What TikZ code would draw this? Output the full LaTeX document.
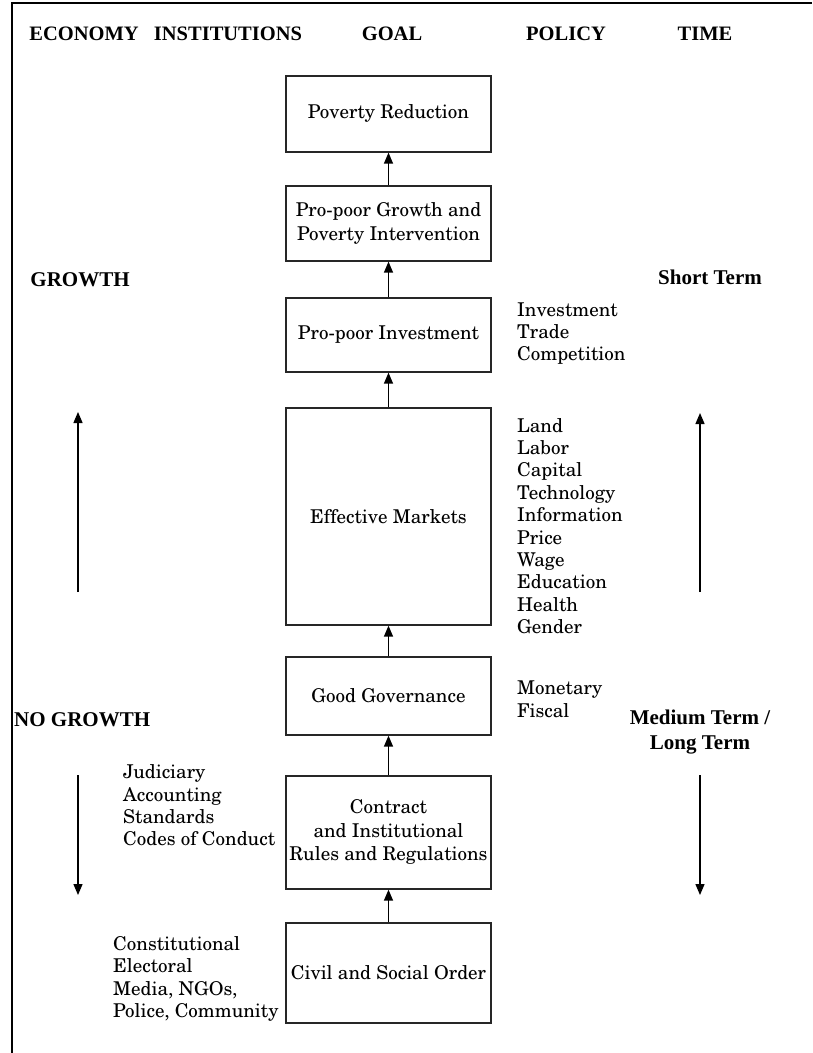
\documentclass[tikz,border=0pt]{standalone}
\usepackage{fontspec}
\newfontfamily\hdfont{Liberation Serif}
\newcommand\bodyfont{\fontencoding{T1}\fontfamily{pnc}\selectfont}
\usetikzlibrary{arrows.meta}
\begin{document}
\begin{tikzpicture}[x=1pt,y=-1pt,
  box/.style={draw=black!85, line width=1.2pt, minimum width=205pt, inner sep=0pt, align=center, font=\bodyfont\fontsize{19}{23.5}\selectfont},
  lst/.style={align=left, inner sep=0pt, anchor=west, font=\bodyfont\fontsize{19}{22.4}\selectfont},
  hdr/.style={font=\hdfont\bfseries\fontsize{20.5}{24}\selectfont, inner sep=0pt, anchor=base},
  lbl/.style={font=\hdfont\bfseries\fontsize{21}{25}\selectfont, inner sep=0pt, align=center},
  arr/.style={line width=1.3pt, -{Triangle[width=9pt,length=11pt]}}]
\useasboundingbox (0,0) rectangle (812,1053);
% frame
\coordinate (fr1) at (812,3);
\coordinate (fr2) at (12,3);
\coordinate (fr3) at (12,1053);
\draw[line width=2pt] (fr1) -- (fr2) -- (fr3);
% headers
\node[hdr] (h1) at (84,40) {ECONOMY};
\node[hdr] (h2) at (228,40) {INSTITUTIONS};
\node[hdr] (h3) at (392,40) {GOAL};
\node[hdr] (h4) at (566,40) {POLICY};
\node[hdr] (h5) at (705,40) {TIME};
% boxes
\node[box, minimum height=76pt] (b1) at (388.5,114) {Poverty Reduction};
\node[box, minimum height=75pt] (b2) at (388.5,223.5) {Pro-poor Growth and\\Poverty Intervention};
\node[box, minimum height=74pt] (b3) at (388.5,335) {Pro-poor Investment};
\node[box, minimum height=217pt] (b4) at (388.5,516.5) {Effective Markets};
\node[box, minimum height=78pt] (b5) at (388.5,696) {Good Governance};
\node[box, minimum height=113pt] (b6) at (388.5,832.5) {Contract\\and Institutional\\Rules and Regulations};
\node[box, minimum height=100pt] (b7) at (388.5,973) {Civil and Social Order};
\draw[arr] (b2.north) -- (b1.south);
\draw[arr] (b3.north) -- (b2.south);
\draw[arr] (b4.north) -- (b3.south);
\draw[arr] (b5.north) -- (b4.south);
\draw[arr] (b6.north) -- (b5.south);
\draw[arr] (b7.north) -- (b6.south);
% policy lists
\node[lst] (p1) at (517,333.5) {Investment\\Trade\\Competition};
\node[lst] (p2) at (517,526) {Land\\Labor\\Capital\\Technology\\Information\\Price\\Wage\\Education\\Health\\Gender};
\node[lst] (p3) at (517,699) {Monetary\\Fiscal};
% institution lists
\node[lst] (i1) at (123,805.5) {Judiciary\\Accounting\\Standards\\Codes of Conduct};
\node[lst] (i2) at (113,979) {Constitutional\\Electoral\\Media, NGOs,\\Police, Community};
% labels
\node[lbl] (g1) at (80,280) {GROWTH};
\node[lbl, anchor=west] (g2) at (14,720) {NO GROWTH};
\node[lbl] (t1) at (710,277) {Short Term};
\node[lbl] (t2) at (700,732) {Medium Term /\\Long Term};
% side arrows
\coordinate (la1) at (78,592);
\coordinate (la2) at (78,412);
\coordinate (la3) at (78,775);
\coordinate (la4) at (78,895);
\coordinate (ra1) at (700,592);
\coordinate (ra2) at (700,413);
\coordinate (ra3) at (700,775);
\coordinate (ra4) at (700,895);
\draw[arr] (la1) -- (la2);
\draw[arr] (la3) -- (la4);
\draw[arr] (ra1) -- (ra2);
\draw[arr] (ra3) -- (ra4);
\end{tikzpicture}
\end{document}
